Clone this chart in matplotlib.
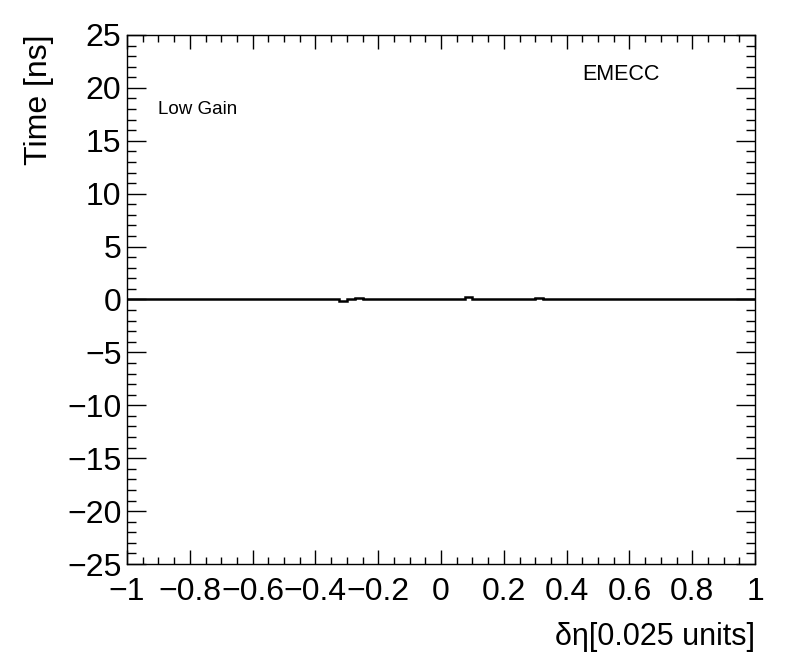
import matplotlib
matplotlib.use("Agg")
import matplotlib.pyplot as plt
import numpy as np
from matplotlib.ticker import MultipleLocator, FuncFormatter

plt.rcParams['font.family'] = ['Liberation Sans', 'DejaVu Sans']

# histogram: 80 bins of 0.025 from -1 to 1, mostly empty
bin_edges = np.linspace(-1, 1, 81)
times = np.zeros(80)
times[27] = -0.15
times[29] = 0.15
times[43] = 0.2
times[52] = 0.1

x_ticks = [-1, -0.8, -0.6, -0.4, -0.2, 0, 0.2, 0.4, 0.6, 0.8, 1]
y_ticks = [-25, -20, -15, -10, -5, 0, 5, 10, 15, 20, 25]

fig = plt.figure(figsize=(7.96, 6.72), dpi=100)
ax = fig.add_axes([0.1596, 0.1607, 0.789, 0.7873])

ax.stairs(times, bin_edges, color='black', linewidth=1.8)

ax.set_xlim(-1, 1)
ax.set_ylim(-25, 25)
ax.set_xticks(x_ticks)
ax.set_yticks(y_ticks)
ax.xaxis.set_minor_locator(MultipleLocator(0.05))
ax.yaxis.set_minor_locator(MultipleLocator(1))

def fmt(v, pos):
    s = ('%g' % v)
    return s.replace('-', '\u2212')

ax.xaxis.set_major_formatter(FuncFormatter(fmt))
ax.yaxis.set_major_formatter(FuncFormatter(fmt))

ax.tick_params(which='both', direction='in', top=True, right=True, labelsize=23, width=1)
ax.tick_params(axis='x', which='major', length=10, pad=9)
ax.tick_params(axis='x', which='minor', length=5)
ax.tick_params(axis='y', which='major', length=14, pad=4)
ax.tick_params(axis='y', which='minor', length=6.5)
for s in ax.spines.values():
    s.set_linewidth(1)

fig.text(0.9485, 0.03, '\u03b4\u03b7[0.025 units]', ha='right', va='bottom', fontsize=22)
fig.text(0.03, 0.948, 'Time [ns]', rotation=90, ha='left', va='top', fontsize=23)

ax.text(0.05, 0.85, 'Low Gain', transform=ax.transAxes, fontsize=13.5)
ax.text(0.7245, 0.915, 'EMECC', transform=ax.transAxes, fontsize=15.5)

fig.savefig('out.png', dpi=100)
